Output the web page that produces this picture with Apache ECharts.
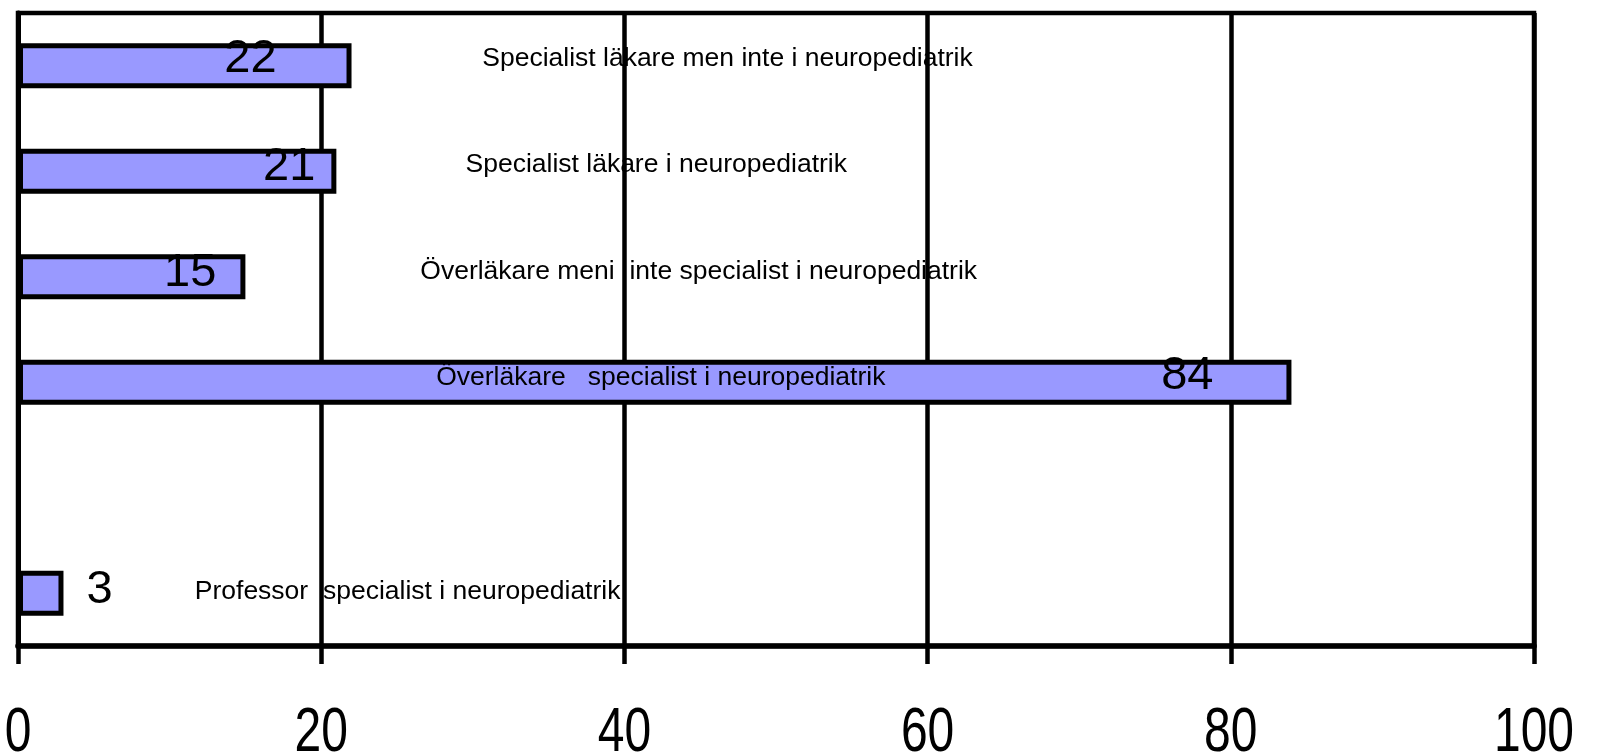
<!DOCTYPE html>
<html>
<head>
<meta charset="utf-8">
<script src="https://cdn.jsdelivr.net/npm/echarts@6/dist/echarts.min.js"></script>
<style>html,body{margin:0;padding:0;background:#fff;}#c{width:1597px;height:753px;}</style>
</head>
<body>
<div id="c"></div>
<script>
// ---- data ----
var categories = [
  'Specialist läkare men inte i neuropediatrik',
  'Specialist läkare i neuropediatrik',
  'Överläkare meni  inte specialist i neuropediatrik',
  'Överläkare   specialist i neuropediatrik',
  '',
  'Professor  specialist i neuropediatrik'
];
var values = [22, 21, 15, 84, null, 3];
var xTicks = [0, 20, 40, 60, 80, 100];

// ---- layout (label placement, not data) ----
var valueLabelPos = ['insideRight', 'insideRight', 'insideRight', 'insideRight', 'insideRight', 'right'];
var valueLabelOffset = [[-75, -7], [-21, -4], [-29, -4], [-78, -6], [0, 0], [23, -3]];
var nameLabelAnchorX = [46.8, 42.1, 44.9, 42.4, null, 25.7];
var nameLabelOffsetY = [-7.5, -6.5, -5, -5, 0, -2];

var chart = echarts.init(document.getElementById('c'), null, {renderer: 'canvas'});

var barData = values.map(function (v, i) {
  return {
    value: v,
    label: {position: valueLabelPos[i], offset: valueLabelOffset[i], distance: 0}
  };
});

var nameData = [];
categories.forEach(function (c, i) {
  if (nameLabelAnchorX[i] == null) return;
  nameData.push({
    value: [nameLabelAnchorX[i], c],
    label: {offset: [0, nameLabelOffsetY[i]]}
  });
});

chart.setOption({
  animation: false,
  backgroundColor: '#ffffff',
  grid: {left: 18, right: 63, top: 13, bottom: 107, show: true, borderColor: '#000', borderWidth: 4.5, backgroundColor: 'transparent'},
  xAxis: {
    type: 'value', min: xTicks[0], max: xTicks[xTicks.length - 1], interval: 20,
    axisLine: {show: true, lineStyle: {color: '#000', width: 5.5}},
    axisTick: {show: true, length: 18, lineStyle: {color: '#000', width: 4.5}},
    axisLabel: {show: false},
    splitLine: {show: true, lineStyle: {color: '#000', width: 4.5}}
  },
  yAxis: {
    type: 'category', data: categories, inverse: true,
    axisLine: {show: true, lineStyle: {color: '#000', width: 5}},
    axisTick: {show: false},
    axisLabel: {show: false},
    splitLine: {show: false}
  },
  series: [
    {
      type: 'bar',
      data: barData,
      barWidth: 45,
      itemStyle: {color: '#9999ff', borderColor: '#000', borderWidth: 5},
      label: {show: true, color: '#000', fontSize: 47, fontFamily: '"Liberation Sans", Arial, sans-serif', formatter: '{c}'},
      z: 3
    },
    {
      type: 'scatter',
      data: nameData,
      symbolSize: 0,
      silent: true,
      z: 4,
      itemStyle: {opacity: 1},
      label: {show: true, position: 'inside', color: '#000', opacity: 1, fontSize: 26.5, fontFamily: '"Liberation Sans", Arial, sans-serif',
        textBorderWidth: 0,
        formatter: function (p) { return p.value[1]; }}
    }
  ]
});

// x-axis tick labels: tall, narrow lettering as in the reference, placed through the axis scale
var gridRect = chart.getModel().getComponent('grid').coordinateSystem.getRect();
var tickLabels = xTicks.map(function (t) {
  var px = chart.convertToPixel({xAxisIndex: 0}, t);
  return {
    type: 'text',
    x: px, y: gridRect.y + gridRect.height + 88,
    scaleY: 1.3,
    style: {text: String(t), fontSize: 48, fontFamily: '"Liberation Sans", Arial, sans-serif', fill: '#000', align: 'center', verticalAlign: 'middle'},
    silent: true
  };
});
chart.setOption({graphic: tickLabels});
</script>
</body>
</html>
